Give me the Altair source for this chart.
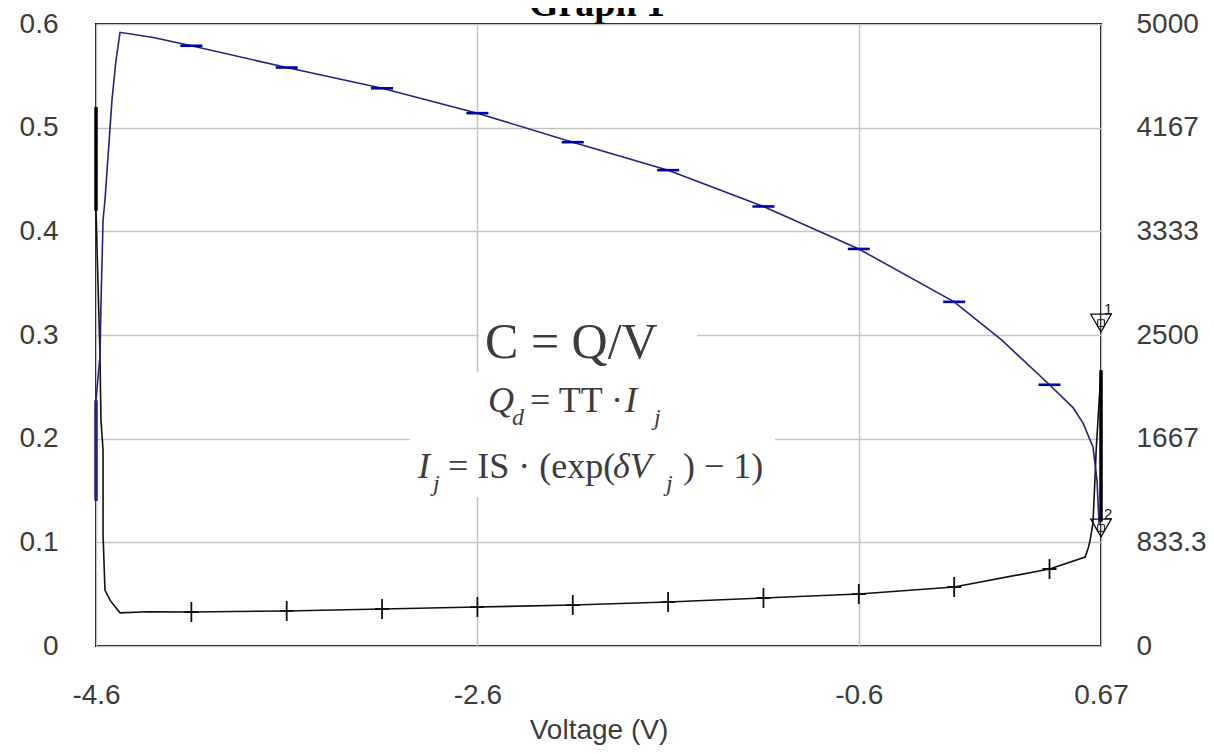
import altair as alt
import pandas as pd

# ---------------- data ----------------
# blue trace (left-axis units), in drawing order
blue_v = [-4.6, -4.6, -4.579, -4.574, -4.563, -4.553, -4.516, -4.495, -4.474, -4.3,
          -4.1, -3.6, -3.1, -2.6, -2.1, -1.6, -1.1, -0.6, -0.1, 0.15, 0.4,
          0.523, 0.576, 0.628, 0.649, 0.66]
blue_y = [0.14, 0.237, 0.28, 0.33, 0.411, 0.43, 0.527, 0.565, 0.592, 0.587,
          0.579, 0.558, 0.538, 0.514, 0.486, 0.459, 0.424, 0.383, 0.332, 0.295, 0.252,
          0.23, 0.215, 0.192, 0.16, 0.117]

# black trace, in drawing order
black_v = [-4.6, -4.6, -4.579, -4.574, -4.563, -4.563, -4.553, -4.526, -4.474, -4.33,
           -4.1, -3.6, -3.1, -2.6, -2.1, -1.6, -1.1, -0.6, -0.1, 0.4,
           0.587, 0.603, 0.613, 0.628, 0.638, 0.645, 0.67, 0.67]
black_y = [0.52, 0.42, 0.28, 0.218, 0.189, 0.107, 0.054, 0.044, 0.032, 0.033,
           0.0328, 0.0338, 0.0357, 0.0376, 0.0395, 0.0424, 0.0463, 0.0501, 0.0569, 0.0743,
           0.0858, 0.0945, 0.102, 0.119, 0.16, 0.19, 0.266, 0.12]

# voltages that carry a data marker
marker_v = [-4.1, -3.6, -3.1, -2.6, -2.1, -1.6, -1.1, -0.6, -0.1, 0.4]

# heavy vertical segments on the plot edges
edge_v = [-4.6, -4.6, 0.67]
edge_y1 = [0.42, 0.14, 0.12]
edge_y2 = [0.52, 0.237, 0.266]
edge_trace = ["black", "blue", "black"]

# cursors
cursor_v = [0.67, 0.67]
cursor_y = [0.3115, 0.1138]
cursor_label = ["1", "2"]

# axes
x_ticks = [-4.6, -2.6, -0.6, 0.67]
y_ticks = [0, 0.1, 0.2, 0.3, 0.4, 0.5, 0.6]
right_ticks = [0, 833.3, 1667, 2500, 3333, 4167, 5000]

# ---------------- tables ----------------
blue_df = pd.DataFrame({"v": blue_v, "y": blue_y, "i": range(len(blue_v))})
black_df = pd.DataFrame({"v": black_v, "y": black_y, "i": range(len(black_v))})
blue_mk = blue_df[blue_df["v"].isin(marker_v)]
black_mk = black_df[black_df["v"].isin(marker_v)]
edge_df = pd.DataFrame({"v": edge_v, "y": edge_y1, "y2": edge_y2, "trace": edge_trace})
cursor_df = pd.DataFrame({"v": cursor_v, "y": cursor_y, "t": cursor_label})
right_df = pd.DataFrame({"r": right_ticks})

BLUE_LINE = "#222288"
BLUE_MARK = "#0000aa"
INK = "#3c3c3c"
SANS = "Liberation Sans"
SERIF = "Liberation Serif"

x_axis = alt.Axis(values=x_ticks, title="Voltage (V)",
                  labelExpr="'' + datum.value",
                  labelPadding=35, labelFlush=False, labelOverlap=False,
                  titleY=92, titleBaseline="alphabetic")
x_scale = alt.Scale(domain=[-4.6, 0.67], nice=False, zero=False)
x_enc = alt.X("v:Q", scale=x_scale, axis=x_axis)
y_enc = alt.Y("y:Q",
              scale=alt.Scale(domain=[0, 0.6], nice=False, zero=False),
              axis=alt.Axis(values=y_ticks, title=None, labelExpr="'' + datum.value",
                            labelPadding=38, labelOverlap=False, labelFlush=False))

# white boxes behind the formula
box_df = pd.DataFrame({"v": [-2.592, -2.953], "v2": [-1.448, -1.039],
                       "y": [0.3288, 0.2642], "y2": [0.2681, 0.1437]})
boxes = alt.Chart(box_df).mark_rect(color="white").encode(
    x=x_enc, x2="v2:Q", y=y_enc, y2="y2:Q")


def text_layer(df, size, style="normal", weight="normal", color=INK, font=SERIF,
               align="left", baseline="alphabetic"):
    return alt.Chart(df).mark_text(font=font, fontSize=size, fontStyle=style,
                                   fontWeight=weight, color=color, align=align,
                                   baseline=baseline).encode(x=x_enc, y=y_enc, text="t:N")


f_big = text_layer(pd.DataFrame({"t": ["C = Q/V"], "v": [-2.56], "y": [0.2777]}), 50)
f_reg = text_layer(pd.DataFrame({"t": ["= TT ·", "= IS · (exp(", ") − 1)"],
                                 "v": [-2.324, -2.754, -1.522],
                                 "y": [0.2257, 0.162, 0.162]}), 36)
f_it = text_layer(pd.DataFrame({"t": ["Q", "I", "I", "δV"],
                                "v": [-2.544, -1.826, -2.912, -1.889],
                                "y": [0.2257, 0.2257, 0.162, 0.162]}), 36, style="italic")
f_sub = text_layer(pd.DataFrame({"t": ["d", "j", "j", "j"],
                                 "v": [-2.418, -1.674, -2.833, -1.611],
                                 "y": [0.2131, 0.2131, 0.1495, 0.1495]}), 24, style="italic")

title = text_layer(pd.DataFrame({"t": ["Graph 1"], "v": [-1.973], "y": [0.6075]}), 38,
                   weight="bold", color="black", align="center")

blue_line = alt.Chart(blue_df).mark_line(color=BLUE_LINE, strokeWidth=1.6).encode(
    x=x_enc, y=y_enc, order="i:Q")
black_line = alt.Chart(black_df).mark_line(color="#111111", strokeWidth=1.6).encode(
    x=x_enc, y=y_enc, order="i:Q")

blue_marks = alt.Chart(blue_mk).mark_point(
    shape="M -1 0 L 1 0", size=484, filled=False, color=BLUE_MARK, strokeWidth=2.6,
    opacity=1).encode(x=x_enc, y=y_enc)
black_marks = alt.Chart(black_mk).mark_point(
    shape="M -0.7 0 L 0.7 0 M 0 -1 L 0 1", size=400, filled=False, color="#111111",
    strokeWidth=1.8, opacity=1).encode(x=x_enc, y=y_enc)

edges = alt.Chart(edge_df).mark_rule(strokeWidth=3.5).encode(
    x=x_enc, y=y_enc, y2="y2:Q",
    color=alt.Color("trace:N", scale=alt.Scale(domain=["black", "blue"],
                                                range=["#000000", BLUE_LINE]), legend=None))

cursors = alt.Chart(cursor_df).mark_point(
    shape="triangle-down", size=420, filled=False, color="#111111", strokeWidth=1.3,
    opacity=1).encode(x=x_enc, y=y_enc)
cursor_box = alt.Chart(cursor_df).mark_point(
    shape="square", size=45, filled=False, color="#111111", strokeWidth=1, opacity=1,
    dx=-4, dy=-12).encode(x=x_enc, y=y_enc)
cursor_txt = alt.Chart(cursor_df).mark_text(
    font=SANS, fontSize=15, color="#111111", align="left", baseline="middle",
    dx=3, dy=-14).encode(x=x_enc, y=y_enc, text="t:N")

left = alt.layer(boxes, f_big, f_reg, f_it, f_sub, black_line, blue_line,
                 black_marks, blue_marks, edges, cursors, cursor_box, cursor_txt, title)

right = alt.Chart(right_df).mark_point(opacity=0).encode(
    x=alt.X("v:Q", scale=x_scale, axis=x_axis),
    y=alt.Y("r:Q", scale=alt.Scale(domain=[0, 5000], nice=False, zero=False),
            axis=alt.Axis(orient="right", values=right_ticks, title=None, grid=False,
                          labelExpr="'' + datum.value", labelPadding=35,
                          labelOverlap=False, labelFlush=False))
).transform_calculate(v="-4.6")

chart = alt.layer(left, right).resolve_scale(y="independent").properties(
    width=1005, height=622,
    autosize=alt.AutoSizeParams(type="none"),
    padding={"left": 88, "top": 16, "right": 105, "bottom": 100},
    background="white",
).configure_view(stroke="black", strokeWidth=2).configure_axis(
    labelFont=SANS, labelFontSize=28, labelColor=INK, ticks=False, tickSize=0,
    domain=False, grid=True, gridColor="#c4c4c4", gridWidth=1.5,
    titleFont=SANS, titleFontSize=28, titleFontWeight="normal", titleColor=INK,
)

chart.save("out.html", embed_options={"renderer": "svg", "actions": False})
